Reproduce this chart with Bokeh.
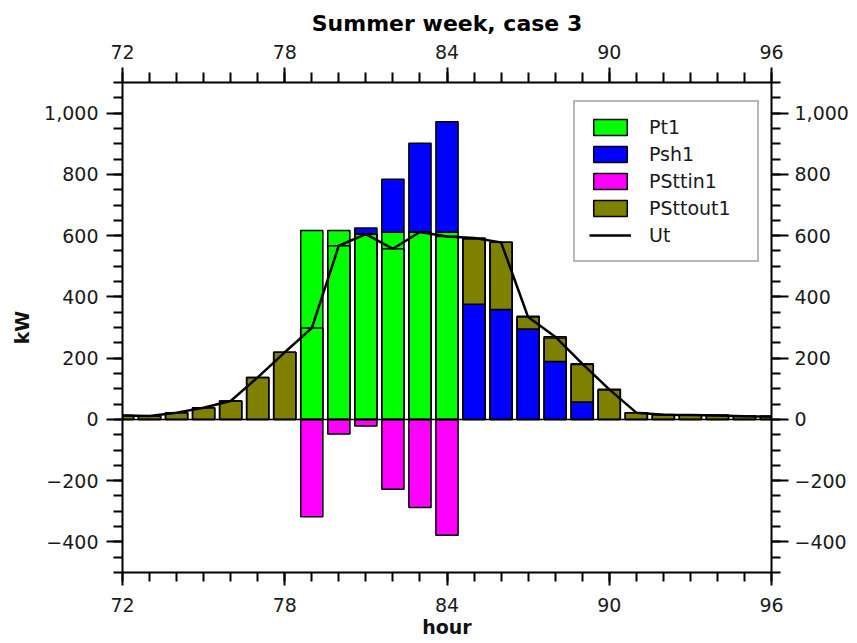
import numpy as np
from bokeh.plotting import figure
from bokeh.models import (ColumnDataSource, LinearAxis, FixedTicker, CustomJSTickFormatter,
                          Legend, LegendItem, Span, Range1d)
from bokeh.embed import file_html
from bokeh.resources import INLINE

# ---------------- data ----------------
hours    = [72, 73, 74, 75, 76, 77, 78, 79, 80, 81, 82, 83, 84, 85, 86, 87, 88, 89, 90, 91, 92, 93, 94, 95, 96]
pt1      = [0, 0, 0, 0, 0, 0, 0, 617, 617, 605, 611, 611, 611, 0, 0, 0, 0, 0, 0, 0, 0, 0, 0, 0, 0]
psh1     = [0, 0, 0, 0, 0, 0, 0, 0, 0, 20, 173, 291, 361, 376, 359, 295, 189, 57, 0, 0, 0, 0, 0, 0, 0]
psttin1  = [0, 0, 0, 0, 0, 0, 0, -318, -48, -22, -228, -288, -378, 0, 0, 0, 0, 0, 0, 0, 0, 0, 0, 0, 0]
psttout1 = [13, 11, 22, 38, 60, 137, 219, 0, 0, 0, 0, 0, 0, 213, 219, 42, 77, 122, 96, 22, 16, 15, 14, 11, 10]
ut       = [13, 11, 22, 38, 60, 137, 219, 298, 567, 605, 557, 612, 597, 592, 578, 334, 270, 182, 98, 22, 15, 14, 13, 10, 9]

x_major = [72, 78, 84, 90, 96]
y_major = [-400, -200, 0, 200, 400, 600, 800, 1000]

title_text = "Summer week, case 3"
x_label = "hour"
y_label = "kW"

FONT = "DejaVu Sans"
C_PT1, C_PSH1, C_IN, C_OUT = "#00ff00", "#0000ff", "#ff00ff", "#808000"

# ---------------- figure ----------------
p = figure(width=857, height=643, output_backend="svg", toolbar_location=None,
           x_range=Range1d(72, 96), y_range=Range1d(-500, 1100),
           min_border_left=122, min_border_right=86, min_border_top=82, min_border_bottom=71)
p.xgrid.visible = False
p.ygrid.visible = False
p.outline_line_color = None
p.background_fill_color = "white"
p.border_fill_color = "white"

p.title.text = title_text
p.title.text_font = FONT
p.title.text_font_size = "22px"
p.title.text_font_style = "bold"
p.title.text_color = "black"
p.title.align = "center"
p.title.offset = -14
p.title.standoff = 12

h = np.array(hours, dtype=float)
a_pt = np.array(pt1, dtype=float)
a_sh = np.array(psh1, dtype=float)
a_in = np.array(psttin1, dtype=float)
a_out = np.array(psttout1, dtype=float)

def src(bottom, top):
    m = (top - bottom) != 0
    return ColumnDataSource(dict(x=h[m], bottom=bottom[m], top=top[m]))

W = 0.82
LW = 1.5
r_pt = p.vbar(x="x", bottom="bottom", top="top", width=W, source=src(np.zeros_like(a_pt), a_pt),
              fill_color=C_PT1, line_color="black", line_width=LW)
r_sh = p.vbar(x="x", bottom="bottom", top="top", width=W, source=src(a_pt, a_pt + a_sh),
              fill_color=C_PSH1, line_color="black", line_width=LW)
r_in = p.vbar(x="x", bottom="bottom", top="top", width=W, source=src(a_in, np.zeros_like(a_in)),
              fill_color=C_IN, line_color="black", line_width=LW)
r_out = p.vbar(x="x", bottom="bottom", top="top", width=W, source=src(a_pt + a_sh, a_pt + a_sh + a_out),
               fill_color=C_OUT, line_color="black", line_width=LW)

# Ut level marked on each bar (outline only) and as a line
ut_src = ColumnDataSource(dict(x=hours, ut=ut))
p.vbar(x="x", top="ut", bottom=0, width=W, source=ut_src, fill_alpha=0,
       line_color="black", line_width=LW)
p.add_layout(Span(location=0, dimension="width", line_color="black", line_width=1.5))
r_ut = p.line(x="x", y="ut", source=ut_src, line_color="black", line_width=2.5)

# ---------------- axes ----------------
fmt = CustomJSTickFormatter(code="""
    const s = Math.abs(tick).toLocaleString('en-US');
    return tick < 0 ? '\u2212' + s : s;
""")
yt = FixedTicker(ticks=y_major, minor_ticks=list(range(-500, 1101, 50)))
xt = FixedTicker(ticks=x_major, minor_ticks=list(range(72, 97)))

def style(ax, major_out, minor_out, standoff):
    ax.axis_line_color = "black"
    ax.axis_line_width = 2
    ax.major_tick_line_color = "black"
    ax.major_tick_line_width = 2
    ax.minor_tick_line_color = "black"
    ax.minor_tick_line_width = 2
    ax.major_tick_in = 0
    ax.minor_tick_in = 0
    ax.major_tick_out = major_out
    ax.minor_tick_out = minor_out
    ax.major_label_text_font = FONT
    ax.major_label_text_font_size = "19px"
    ax.major_label_text_color = "#1a1a1a"
    ax.major_label_standoff = standoff
    ax.axis_label_text_font = FONT
    ax.axis_label_text_font_size = "19px"
    ax.axis_label_text_font_style = "bold"
    ax.axis_label_text_color = "#111111"

xb = p.xaxis[0]
xb.ticker = xt
style(xb, 13, 9, 12)
xb.axis_label = x_label
xb.axis_label_standoff = 1

yl = p.yaxis[0]
yl.ticker = yt
yl.formatter = fmt
style(yl, 16, 9, 8)
yl.axis_label = y_label
yl.axis_label_standoff = 8

xa = LinearAxis(ticker=xt)
style(xa, 15, 10, 9)
p.add_layout(xa, "above")

yr = LinearAxis(ticker=yt, formatter=fmt)
style(yr, 17, 9, 6)
p.add_layout(yr, "right")

# ---------------- legend ----------------
legend = Legend(items=[
    LegendItem(label="Pt1", renderers=[r_pt]),
    LegendItem(label="Psh1", renderers=[r_sh]),
    LegendItem(label="PSttin1", renderers=[r_in]),
    LegendItem(label="PSttout1", renderers=[r_out]),
    LegendItem(label="Ut", renderers=[r_ut]),
], location=(451, 310))
legend.label_text_font = FONT
legend.label_text_font_size = "19px"
legend.label_text_color = "#1a1a1a"
legend.glyph_width = 42
legend.glyph_height = 20
legend.label_height = 20
legend.label_standoff = 18
legend.label_width = 94
legend.spacing = 5
legend.padding = 14
legend.margin = 0
legend.border_line_color = "#707070"
legend.border_line_width = 2
legend.background_fill_color = "white"
legend.background_fill_alpha = 1
p.add_layout(legend)

open("out.html", "w").write(file_html(p, INLINE))
